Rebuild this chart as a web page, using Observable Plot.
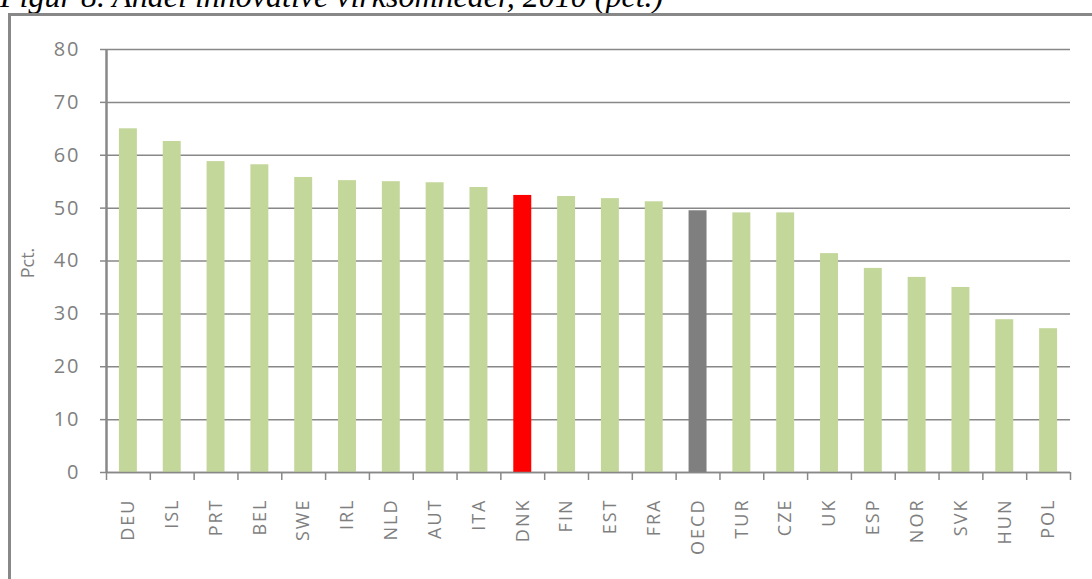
<!DOCTYPE html>
<html>
<head>
<meta charset="utf-8">
<script src="https://cdn.jsdelivr.net/npm/d3@7"></script>
<script src="https://cdn.jsdelivr.net/npm/@observablehq/plot@0.6"></script>
<style>
  html, body { margin: 0; padding: 0; background: #fff; overflow: hidden; }
  #wrap { position: relative; width: 1092px; height: 579px; overflow: hidden; background: #fff; }
  #title { position: absolute; left: 0px; top: -20px; font-family: "Liberation Serif", "DejaVu Serif", serif; font-style: italic; font-size: 32px; color: #000; white-space: nowrap; line-height: 32px; }
  #frame { position: absolute; left: 8px; top: 13px; width: 1300px; height: 800px; border-left: 3px solid #888; border-top: 3px solid #888; box-sizing: border-box; }
  #chart { position: absolute; left: 0; top: 0; }
</style>
</head>
<body>
<div id="wrap">
  <div id="title">Figur 8. Andel innovative virksomheder, 2010 (pct.)</div>
  <div id="frame"></div>
  <div id="chart"></div>
</div>
<script>
const categories = ["DEU","ISL","PRT","BEL","SWE","IRL","NLD","AUT","ITA","DNK","FIN","EST","FRA","OECD","TUR","CZE","UK","ESP","NOR","SVK","HUN","POL"];
const values = [65.0, 62.6, 58.8, 58.2, 55.8, 55.2, 55.0, 54.8, 53.9, 52.4, 52.2, 51.8, 51.2, 49.5, 49.1, 49.1, 41.4, 38.6, 36.9, 35.0, 28.9, 27.2];
const yTicks = [0, 10, 20, 30, 40, 50, 60, 70, 80];
const highlightColors = { DNK: "#ff0000", OECD: "#7f7f7f" };
const baseColor = "#c4d79b";
const yLabel = "Pct.";

const data = categories.map((c, i) => ({ country: c, value: values[i], color: highlightColors[c] || baseColor }));

const W = 1092, H = 579;
const ml = 106, mr = 22, mt = 49, mb = 107;
const step = (W - ml - mr) / categories.length;

const chart = Plot.plot({
  width: W,
  height: H,
  marginLeft: ml,
  marginRight: mr,
  marginTop: mt,
  marginBottom: mb,
  style: { fontFamily: "'Open Sans', 'Liberation Sans', sans-serif", color: "#7f7f7f", background: "transparent" },
  x: { domain: categories, paddingInner: 0.59, paddingOuter: 0.295, round: false, label: null },
  y: { domain: [0, 80], label: null },
  marks: [
    Plot.gridY(yTicks, { stroke: "#888", strokeOpacity: 1, strokeWidth: 1.5 }),
    Plot.barY(data, { x: "country", y: "value", fill: d => d.color }),
    Plot.ruleY([0], { stroke: "#888", strokeWidth: 1.5 }),
    Plot.ruleX([categories[0]], { dx: -step / 2, y1: 0, y2: 80, stroke: "#888", strokeWidth: 2.5 }),
    Plot.axisY({ ticks: yTicks, tickSize: 6, tickPadding: 20, fontSize: 20, stroke: "#888", strokeWidth: 1.5, label: null }),
    Plot.axisX({ ticks: categories, tickSize: 8, tickFormat: () => "", dx: -step / 2, stroke: "#888", strokeWidth: 1.5 }),
    Plot.axisX({ ticks: categories.slice(-1), tickSize: 8, tickFormat: () => "", dx: step / 2, stroke: "#888", strokeWidth: 1.5 }),
    Plot.axisX({ ticks: categories, tickSize: 0, tickPadding: 26, tickRotate: -90, fontSize: 18, label: null })
  ]
});
chart.querySelectorAll("text").forEach(t => t.style.letterSpacing = "2px");
// y-axis title added separately so it keeps normal letter spacing
const yTitle = Plot.plot({
  width: W, height: H, marginLeft: ml, marginRight: mr, marginTop: mt, marginBottom: mb,
  style: { fontFamily: "'Open Sans', 'Liberation Sans', sans-serif", background: "transparent", position: "absolute", left: "0px", top: "0px" },
  x: { axis: null }, y: { axis: null },
  marks: [Plot.text([yLabel], { frameAnchor: "left", textAnchor: "middle", dx: -78, dy: 2, rotate: -90, fontSize: 18, fill: "#7f7f7f", text: d => d })]
});
document.getElementById("chart").appendChild(chart);
document.getElementById("chart").appendChild(yTitle);
</script>
</body>
</html>
